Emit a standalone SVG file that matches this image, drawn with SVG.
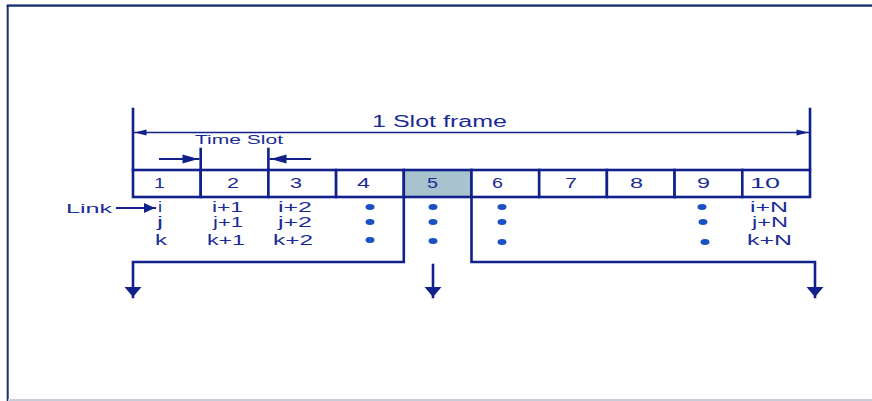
<svg xmlns="http://www.w3.org/2000/svg" width="872" height="401" viewBox="0 0 872 401">
<defs>
<style>
.ln{stroke:#12208c;fill:none;stroke-linecap:square}
.thick{stroke-width:2.6}
.thin{stroke-width:1.3}
.cell{fill:#ffffff;stroke:#12208c;stroke-width:2.6}
.hl{fill:#a8c3cd}
.t{font-family:"Liberation Sans",Arial,sans-serif;fill:#1a2b98}
.num{font-size:14px}
.lab{font-size:13px}
.big{font-size:16px}
.dot{fill:#1c4fc4}
</style>
<marker id="hBig" markerUnits="userSpaceOnUse" viewBox="-1 -10 12 20" markerWidth="12" markerHeight="20" refX="10" refY="0" orient="auto" overflow="visible">
<path d="M0,-8.5 L10,0 L0,8.5 z" fill="#12208c"/>
</marker>
<marker id="hThin" markerUnits="userSpaceOnUse" viewBox="-1 -5 14 10" markerWidth="14" markerHeight="10" refX="12" refY="0" orient="auto-start-reverse" overflow="visible">
<path d="M0,-3 L12,0 L0,3 z" fill="#12208c"/>
</marker>
<marker id="hMid" markerUnits="userSpaceOnUse" viewBox="-1 -6 18 12" markerWidth="18" markerHeight="12" refX="16" refY="0" orient="auto" overflow="visible">
<path d="M0,-4.5 L16,0 L0,4.5 z" fill="#12208c"/>
</marker>
<marker id="hLink" markerUnits="userSpaceOnUse" viewBox="-1 -6 13 12" markerWidth="13" markerHeight="12" refX="11" refY="0" orient="auto" overflow="visible">
<path d="M0,-5 L11,0 L0,5 z" fill="#12208c"/>
</marker>
</defs>

<g id="frame">
<rect x="0" y="0" width="872" height="401" fill="#ffffff"/>
<line x1="7" y1="4.5" x2="872" y2="4.5" stroke="#8e9fc6" stroke-width="1"/>
<line x1="6.7" y1="5.8" x2="872" y2="5.8" stroke="#15306e" stroke-width="2"/>
<line x1="7.7" y1="5" x2="7.7" y2="401" stroke="#15306e" stroke-width="2"/>
<line x1="8" y1="400" x2="872" y2="400" stroke="#c9ccd9" stroke-width="2"/>
</g>

<g id="cells">
<rect class="cell" x="133" y="170" width="67.7" height="27"/>
<rect class="cell" x="200.7" y="170" width="67.7" height="27"/>
<rect class="cell" x="268.4" y="170" width="67.7" height="27"/>
<rect class="cell" x="336.1" y="170" width="67.7" height="27"/>
<rect class="cell hl" x="403.8" y="170" width="67.7" height="27"/>
<rect class="cell" x="471.5" y="170" width="67.7" height="27"/>
<rect class="cell" x="539.2" y="170" width="67.7" height="27"/>
<rect class="cell" x="606.9" y="170" width="67.7" height="27"/>
<rect class="cell" x="674.6" y="170" width="67.7" height="27"/>
<rect class="cell" x="742.3" y="170" width="67.7" height="27"/>
</g>

<g id="cell-labels" class="t num">
<text x="154" y="188" textLength="11" lengthAdjust="spacingAndGlyphs">1</text>
<text x="227" y="188" textLength="12" lengthAdjust="spacingAndGlyphs">2</text>
<text x="290" y="188" textLength="12" lengthAdjust="spacingAndGlyphs">3</text>
<text x="357" y="188" textLength="13" lengthAdjust="spacingAndGlyphs">4</text>
<text x="427" y="188" textLength="11" lengthAdjust="spacingAndGlyphs">5</text>
<text x="492" y="188" textLength="11" lengthAdjust="spacingAndGlyphs">6</text>
<text x="565" y="188" textLength="12" lengthAdjust="spacingAndGlyphs">7</text>
<text x="630" y="188" textLength="13" lengthAdjust="spacingAndGlyphs">8</text>
<text x="697" y="188" textLength="13" lengthAdjust="spacingAndGlyphs">9</text>
<text x="750" y="188" textLength="30" lengthAdjust="spacingAndGlyphs">10</text>
</g>

<g id="slot-frame">
<line class="ln thick" x1="133" y1="109" x2="133" y2="170"/>
<line class="ln thick" x1="810" y1="109" x2="810" y2="170"/>
<text class="t big" x="372" y="127" textLength="135" lengthAdjust="spacingAndGlyphs">1 Slot frame</text>
</g>

<g id="time-slot">
<line class="ln thick" x1="200.7" y1="149" x2="200.7" y2="170"/>
<line class="ln thick" x1="268.4" y1="149" x2="268.4" y2="170"/>
<text class="t lab" x="195" y="144" textLength="88" lengthAdjust="spacingAndGlyphs">Time Slot</text>
</g>

<g id="link">
<text class="t lab" x="66" y="213" textLength="46" lengthAdjust="spacingAndGlyphs">Link</text>
</g>

<g id="links" class="t num">
<text x="158" y="212" textLength="4" lengthAdjust="spacingAndGlyphs">i</text>
<text x="212" y="212" textLength="31" lengthAdjust="spacingAndGlyphs">i+1</text>
<text x="278" y="212" textLength="34" lengthAdjust="spacingAndGlyphs">i+2</text>
<text x="750" y="212" textLength="38" lengthAdjust="spacingAndGlyphs">i+N</text>
<text x="157" y="227" textLength="6" lengthAdjust="spacingAndGlyphs">j</text>
<text x="213" y="227" textLength="30" lengthAdjust="spacingAndGlyphs">j+1</text>
<text x="278" y="227" textLength="34" lengthAdjust="spacingAndGlyphs">j+2</text>
<text x="752" y="227" textLength="36" lengthAdjust="spacingAndGlyphs">j+N</text>
<text x="155" y="245" textLength="12" lengthAdjust="spacingAndGlyphs">k</text>
<text x="207" y="245" textLength="38" lengthAdjust="spacingAndGlyphs">k+1</text>
<text x="273" y="245" textLength="40" lengthAdjust="spacingAndGlyphs">k+2</text>
<text x="747" y="245" textLength="45" lengthAdjust="spacingAndGlyphs">k+N</text>
</g>

<g id="dots" class="dot">
<ellipse cx="370" cy="207" rx="4.5" ry="3"/>
<ellipse cx="370" cy="222" rx="4.5" ry="3"/>
<ellipse cx="370" cy="240" rx="4.5" ry="3"/>
<ellipse cx="433" cy="207" rx="4.5" ry="3"/>
<ellipse cx="433" cy="222" rx="4.5" ry="3"/>
<ellipse cx="433" cy="241" rx="4.5" ry="3"/>
<ellipse cx="502" cy="207" rx="4.5" ry="3"/>
<ellipse cx="502" cy="222" rx="4.5" ry="3"/>
<ellipse cx="502" cy="242" rx="4.5" ry="3"/>
<ellipse cx="702" cy="207" rx="4.5" ry="3"/>
<ellipse cx="703" cy="222" rx="4.5" ry="3"/>
<ellipse cx="705" cy="242" rx="4.5" ry="3"/>
</g>

<g id="connectors">
<line class="ln thin" x1="134.5" y1="132.5" x2="808.5" y2="132.5" marker-start="url(#hThin)" marker-end="url(#hThin)"/>
<line class="ln" stroke-width="2" x1="160" y1="159" x2="198.5" y2="159" marker-end="url(#hMid)"/>
<line class="ln" stroke-width="2" x1="310" y1="159" x2="270.5" y2="159" marker-end="url(#hMid)"/>
<line class="ln" stroke-width="2.2" x1="117" y1="208" x2="155" y2="208" marker-end="url(#hLink)"/>
<polyline class="ln thick" points="403.8,197 403.8,262 133,262 133,297" marker-end="url(#hBig)"/>
<line class="ln thick" x1="433" y1="265" x2="433" y2="297" marker-end="url(#hBig)"/>
<polyline class="ln thick" points="471.5,197 471.5,262 815,262 815,297" marker-end="url(#hBig)"/>
</g>
</svg>
